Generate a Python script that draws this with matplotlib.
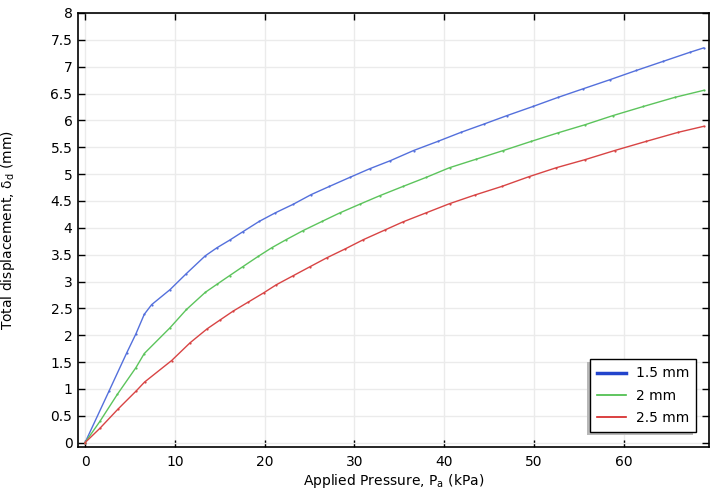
import matplotlib
matplotlib.use("Agg")
import matplotlib.pyplot as plt
from matplotlib.lines import Line2D
from matplotlib.patches import Rectangle

# Data
x_15 = [0, 2.7, 4.64, 5.68, 6.6, 7.42, 9.47, 11.3, 13.4, 14.7, 16.1, 17.6, 19.4, 21.2,
        23.2, 25.2, 27.2, 29.5, 31.7, 34.0, 36.6, 39.3, 41.9, 44.4, 47.0, 49.9, 52.7,
        55.5, 58.5, 61.4, 64.4, 67.4, 68.9]
y_15 = [0, 0.97, 1.67, 2.03, 2.39, 2.57, 2.85, 3.15, 3.48, 3.63, 3.77, 3.93, 4.12, 4.28,
        4.44, 4.62, 4.77, 4.94, 5.10, 5.25, 5.44, 5.61, 5.78, 5.93, 6.09, 6.26, 6.43,
        6.59, 6.76, 6.93, 7.10, 7.27, 7.35]

x_20 = [0, 1.67, 3.6, 5.68, 6.6, 9.47, 11.3, 13.4, 14.7, 16.1, 17.6, 19.3, 20.8, 22.4,
        24.3, 26.4, 28.4, 30.6, 32.85, 35.4, 38.0, 40.6, 43.6, 46.6, 49.7, 52.7, 55.7,
        58.8, 62.2, 65.7, 68.9]
y_20 = [0, 0.40, 0.90, 1.40, 1.66, 2.14, 2.48, 2.80, 2.95, 3.11, 3.28, 3.47, 3.63, 3.78,
        3.95, 4.12, 4.28, 4.44, 4.60, 4.77, 4.94, 5.12, 5.28, 5.44, 5.61, 5.77, 5.92,
        6.09, 6.26, 6.43, 6.56]

x_25 = [0, 1.67, 3.64, 5.68, 6.64, 9.65, 11.7, 13.6, 15.0, 16.5, 18.2, 19.9, 21.3, 23.2,
        25.1, 26.9, 29.0, 31.0, 33.4, 35.4, 38.0, 40.6, 43.4, 46.4, 49.4, 52.5, 55.7,
        59.0, 62.5, 66.1, 68.9]
y_25 = [0, 0.27, 0.62, 0.96, 1.13, 1.53, 1.86, 2.12, 2.28, 2.45, 2.62, 2.79, 2.94, 3.11,
        3.28, 3.44, 3.61, 3.78, 3.96, 4.11, 4.28, 4.45, 4.61, 4.77, 4.95, 5.12, 5.27,
        5.44, 5.61, 5.78, 5.89]

labels = ["1.5 mm", "2 mm", "2.5 mm"]
x_ticks = [0, 10, 20, 30, 40, 50, 60]
y_ticks = [0, 0.5, 1, 1.5, 2, 2.5, 3, 3.5, 4, 4.5, 5, 5.5, 6, 6.5, 7, 7.5, 8]
y_ticklabels = ["0", "0.5", "1", "1.5", "2", "2.5", "3", "3.5", "4", "4.5",
                "5", "5.5", "6", "6.5", "7", "7.5", "8"]

plt.rcParams['font.family'] = ['DejaVu Sans']
plt.rcParams['font.size'] = 10

fig = plt.figure(figsize=(7.16, 4.90), dpi=100)
ax = fig.add_axes([78/716, 1-447/490, (709-78)/716, (447-13)/490])

c_blue = "#5470dc"
c_green = "#5cc45c"
c_red = "#d84444"

for xs, ys, c in [(x_15, y_15, c_blue), (x_20, y_20, c_green), (x_25, y_25, c_red)]:
    ax.plot(xs, ys, color=c, lw=1.0, marker="o", markersize=1.6,
            markeredgewidth=0, solid_joinstyle="round")

ax.set_xlim(-0.78, 69.5)
ax.set_ylim(-0.08, 8.0)
ax.set_xticks(x_ticks)
ax.set_yticks(y_ticks)
ax.set_yticklabels(y_ticklabels)
ax.grid(True, color="#ebebeb", lw=1.0)
ax.set_axisbelow(True)
ax.tick_params(direction="in", top=True, right=True, length=5, width=1,
               labelsize=10, pad=4)
ax.tick_params(axis="x", pad=6)
for s in ax.spines.values():
    s.set_linewidth(1.2)
    s.set_color("black")

ax.set_xlabel("Applied Pressure, P$_\\mathregular{a}$ (kPa)", fontsize=10, labelpad=2)
ax.set_ylabel("Total displacement, δ$_\\mathregular{d}$ (mm)", fontsize=10)
ax.yaxis.set_label_coords(-0.097, 0.5)

handles = [Line2D([], [], color="#2244cc", lw=2.5),
           Line2D([], [], color="#44bb44", lw=1.2),
           Line2D([], [], color="#d42020", lw=1.2)]
leg = ax.legend(handles, labels, loc="lower right",
                bbox_to_anchor=(696/716, 1-432/490), bbox_transform=fig.transFigure,
                borderaxespad=0, fancybox=False, framealpha=1, edgecolor="black",
                handlelength=2.1, handletextpad=0.7, labelspacing=0.6, borderpad=0.5,
                fontsize=10)
leg.get_frame().set_linewidth(1.0)

fig.canvas.draw()
bb = leg.get_window_extent().transformed(fig.transFigure.inverted())
sh = Rectangle((bb.x0 - 3/716, bb.y0 - 3/490), bb.width, bb.height,
               transform=fig.transFigure, facecolor="#b8b8b8", edgecolor="none",
               zorder=4)
fig.add_artist(sh)
leg.remove()
leg.set_zorder(5)
fig.add_artist(leg)

fig.savefig("out.png", dpi=100)
